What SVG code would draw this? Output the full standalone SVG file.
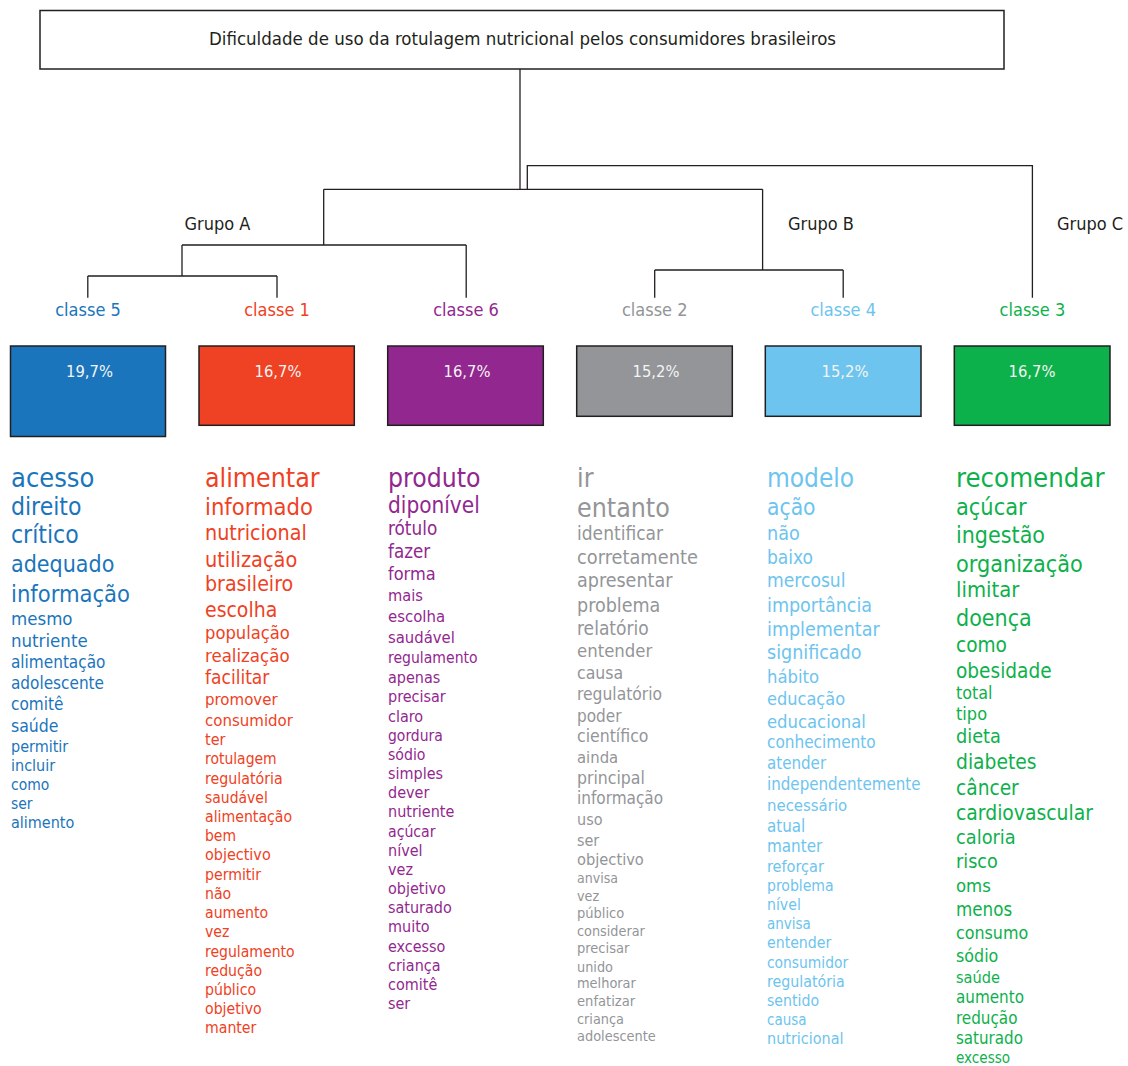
<svg xmlns="http://www.w3.org/2000/svg" width="1128" height="1066" viewBox="0 0 1128 1066">
<style>
text{font-family:"DejaVu Sans Condensed","DejaVu Sans",sans-serif;font-stretch:condensed}
.lbl{font-size:18px;fill:#231f20}
.ttl{font-size:18.5px;fill:#231f20;text-anchor:middle}
.cls{font-size:18px;text-anchor:middle}
.pct{font-size:16.4px;fill:#f4f4f4;text-anchor:middle}
.box{stroke:#231f20;stroke-width:1.5}
.ln{fill:none;stroke:#231f20;stroke-width:1.3}
.blue{fill:#1b75bc}.red{fill:#ef4123}.purple{fill:#92278f}.gray{fill:#939598}.lblue{fill:#6dc4ee}.green{fill:#0db14b}
</style>
<rect width="1128" height="1066" fill="#fff"/>
<g id="root">
<rect x="40" y="10.5" width="964" height="58.5" fill="#fff" class="box"/>
<text x="522.5" y="45" class="ttl">Dificuldade de uso da rotulagem nutricional pelos consumidores brasileiros</text>
</g>
<g id="connectors" class="ln">
<path d="M520 69V189.3M323.7 189.3H762.6M527.3 189.3V165.7H1032.4V297.7"/>
<path d="M323.7 189.3V245M182 245H466.2M182 245V276M87.8 276H277M87.8 276V297.7M277 276V297.7M466.2 245V297.7"/>
<path d="M762.6 189.3V270M654.7 270H843.2M654.7 270V297.7M843.2 270V297.7"/>
</g>
<g id="grupo-a"><text x="217.5" y="230" class="lbl" text-anchor="middle">Grupo A</text></g>
<g id="grupo-b"><text x="821" y="230" class="lbl" text-anchor="middle">Grupo B</text></g>
<g id="grupo-c"><text x="1090" y="230" class="lbl" text-anchor="middle">Grupo C</text></g>

<g id="classe5">
<text x="88" y="316" class="cls blue">classe 5</text>
<rect x="10.5" y="346" width="155" height="90.5" class="box blue"/>
<text x="89.5" y="376.7" class="pct">19,7%</text>
<text x="11" class="blue">
<tspan x="11" y="486.7" font-size="27">acesso</tspan>
<tspan x="11" y="515" font-size="24.5">direito</tspan>
<tspan x="11" y="543.3" font-size="24.5">crítico</tspan>
<tspan x="11" y="571.7" font-size="23">adequado</tspan>
<tspan x="11" y="601.7" font-size="23.5">informação</tspan>
<tspan x="11" y="625" font-size="18.5">mesmo</tspan>
<tspan x="11" y="647.3" font-size="18.5">nutriente</tspan>
<tspan x="11" y="668.3" font-size="17">alimentação</tspan>
<tspan x="11" y="689.3" font-size="17">adolescente</tspan>
<tspan x="11" y="710" font-size="17">comitê</tspan>
<tspan x="11" y="731.7" font-size="17.5">saúde</tspan>
<tspan x="11" y="751.7" font-size="16">permitir</tspan>
<tspan x="11" y="771" font-size="16">incluir</tspan>
<tspan x="11" y="790" font-size="15.5">como</tspan>
<tspan x="11" y="809.3" font-size="15.5">ser</tspan>
<tspan x="11" y="828.3" font-size="16">alimento</tspan>
</text>
</g>

<g id="classe1">
<text x="277" y="316" class="cls red">classe 1</text>
<rect x="199" y="346" width="155.3" height="79.3" class="box red"/>
<text x="278" y="376.7" class="pct">16,7%</text>
<text x="205" class="red">
<tspan x="205" y="486.7" font-size="26.5">alimentar</tspan>
<tspan x="205" y="515" font-size="23.5">informado</tspan>
<tspan x="205" y="540" font-size="21.3">nutricional</tspan>
<tspan x="205" y="566.7" font-size="21.5">utilização</tspan>
<tspan x="205" y="591" font-size="21.2">brasileiro</tspan>
<tspan x="205" y="616.7" font-size="21">escolha</tspan>
<tspan x="205" y="639.3" font-size="18.2">população</tspan>
<tspan x="205" y="661.7" font-size="18.5">realização</tspan>
<tspan x="205" y="684" font-size="19">facilitar</tspan>
<tspan x="205" y="705" font-size="16.7">promover</tspan>
<tspan x="205" y="725.7" font-size="16.7">consumidor</tspan>
<tspan x="205" y="745" font-size="16">ter</tspan>
<tspan x="205" y="764" font-size="15.5">rotulagem</tspan>
<tspan x="205" y="784" font-size="15.8">regulatória</tspan>
<tspan x="205" y="802.7" font-size="15.5">saudável</tspan>
<tspan x="205" y="821.7" font-size="15.7">alimentação</tspan>
<tspan x="205" y="841" font-size="15.5">bem</tspan>
<tspan x="205" y="860" font-size="16">objectivo</tspan>
<tspan x="205" y="880" font-size="15.7">permitir</tspan>
<tspan x="205" y="899" font-size="15.7">não</tspan>
<tspan x="205" y="918.3" font-size="15.7">aumento</tspan>
<tspan x="205" y="937.3" font-size="15.7">vez</tspan>
<tspan x="205" y="956.7" font-size="15.6">regulamento</tspan>
<tspan x="205" y="975.7" font-size="15.7">redução</tspan>
<tspan x="205" y="995" font-size="15.7">público</tspan>
<tspan x="205" y="1014" font-size="15.7">objetivo</tspan>
<tspan x="205" y="1033.3" font-size="15.7">manter</tspan>
</text>
</g>

<g id="classe6">
<text x="466" y="316" class="cls purple">classe 6</text>
<rect x="387.7" y="346" width="155.6" height="79.3" class="box purple"/>
<text x="467" y="376.7" class="pct">16,7%</text>
<text x="388" class="purple">
<tspan x="388" y="486.7" font-size="26.3">produto</tspan>
<tspan x="388" y="513.3" font-size="22.4">diponível</tspan>
<tspan x="388" y="535" font-size="18.8">rótulo</tspan>
<tspan x="388" y="558.3" font-size="18.6">fazer</tspan>
<tspan x="388" y="580" font-size="18">forma</tspan>
<tspan x="388" y="600.7" font-size="16.3">mais</tspan>
<tspan x="388" y="621.7" font-size="16.6">escolha</tspan>
<tspan x="388" y="643.3" font-size="16.5">saudável</tspan>
<tspan x="388" y="662.7" font-size="15.6">regulamento</tspan>
<tspan x="388" y="682.7" font-size="16">apenas</tspan>
<tspan x="388" y="702.3" font-size="16">precisar</tspan>
<tspan x="388" y="721.7" font-size="16">claro</tspan>
<tspan x="388" y="741" font-size="15.5">gordura</tspan>
<tspan x="388" y="760" font-size="15.7">sódio</tspan>
<tspan x="388" y="779.3" font-size="16">simples</tspan>
<tspan x="388" y="798.3" font-size="16">dever</tspan>
<tspan x="388" y="817.3" font-size="16">nutriente</tspan>
<tspan x="388" y="836.5" font-size="15.7">açúcar</tspan>
<tspan x="388" y="856" font-size="16">nível</tspan>
<tspan x="388" y="875" font-size="16">vez</tspan>
<tspan x="388" y="894" font-size="16">objetivo</tspan>
<tspan x="388" y="913.3" font-size="16">saturado</tspan>
<tspan x="388" y="932.3" font-size="16">muito</tspan>
<tspan x="388" y="951.7" font-size="16">excesso</tspan>
<tspan x="388" y="971" font-size="16">criança</tspan>
<tspan x="388" y="990" font-size="16">comitê</tspan>
<tspan x="388" y="1009" font-size="16">ser</tspan>
</text>
</g>

<g id="classe2">
<text x="654.7" y="316" class="cls gray">classe 2</text>
<rect x="576.7" y="346" width="155.6" height="70.3" class="box gray"/>
<text x="656" y="376.7" class="pct">15,2%</text>
<text x="577" class="gray">
<tspan x="577" y="486.7" font-size="26.5">ir</tspan>
<tspan x="577" y="516.7" font-size="26.5">entanto</tspan>
<tspan x="577" y="540" font-size="19">identificar</tspan>
<tspan x="577" y="564" font-size="19.8">corretamente</tspan>
<tspan x="577" y="586.7" font-size="19.5">apresentar</tspan>
<tspan x="577" y="612.3" font-size="19.5">problema</tspan>
<tspan x="577" y="635" font-size="19">relatório</tspan>
<tspan x="577" y="657.3" font-size="18.4">entender</tspan>
<tspan x="577" y="679.3" font-size="17.5">causa</tspan>
<tspan x="577" y="700" font-size="17.3">regulatório</tspan>
<tspan x="577" y="721.7" font-size="17">poder</tspan>
<tspan x="577" y="742.3" font-size="17.5">científico</tspan>
<tspan x="577" y="763.3" font-size="16.5">ainda</tspan>
<tspan x="577" y="784" font-size="17.5">principal</tspan>
<tspan x="577" y="804" font-size="17">informação</tspan>
<tspan x="577" y="825" font-size="16">uso</tspan>
<tspan x="577" y="846" font-size="16">ser</tspan>
<tspan x="577" y="865" font-size="16.3">objectivo</tspan>
<tspan x="577" y="883.3" font-size="14">anvisa</tspan>
<tspan x="577" y="900.7" font-size="14.2">vez</tspan>
<tspan x="577" y="918.3" font-size="14.5">público</tspan>
<tspan x="577" y="936" font-size="14.3">considerar</tspan>
<tspan x="577" y="953.3" font-size="14.5">precisar</tspan>
<tspan x="577" y="971.7" font-size="14.3">unido</tspan>
<tspan x="577" y="988.3" font-size="14.4">melhorar</tspan>
<tspan x="577" y="1006" font-size="14.6">enfatizar</tspan>
<tspan x="577" y="1024" font-size="14.3">criança</tspan>
<tspan x="577" y="1041" font-size="14.4">adolescente</tspan>
</text>
</g>

<g id="classe4">
<text x="843.2" y="316" class="cls lblue">classe 4</text>
<rect x="765.3" y="346" width="155.7" height="70.3" class="box lblue"/>
<text x="845" y="376.7" class="pct">15,2%</text>
<text x="767" class="lblue">
<tspan x="767" y="486.7" font-size="26">modelo</tspan>
<tspan x="767" y="515" font-size="22.6">ação</tspan>
<tspan x="767" y="540" font-size="19.6">não</tspan>
<tspan x="767" y="564" font-size="19">baixo</tspan>
<tspan x="767" y="586.7" font-size="19.1">mercosul</tspan>
<tspan x="767" y="612.3" font-size="19.5">importância</tspan>
<tspan x="767" y="636" font-size="19.5">implementar</tspan>
<tspan x="767" y="659.3" font-size="19.5">significado</tspan>
<tspan x="767" y="682.7" font-size="18.3">hábito</tspan>
<tspan x="767" y="705" font-size="18">educação</tspan>
<tspan x="767" y="727.7" font-size="18.3">educacional</tspan>
<tspan x="767" y="748.3" font-size="17">conhecimento</tspan>
<tspan x="767" y="769" font-size="16.8">atender</tspan>
<tspan x="767" y="790" font-size="16.8">independentemente</tspan>
<tspan x="767" y="811" font-size="16.6">necessário</tspan>
<tspan x="767" y="831.7" font-size="16.8">atual</tspan>
<tspan x="767" y="851.7" font-size="16.9">manter</tspan>
<tspan x="767" y="871.7" font-size="16.1">reforçar</tspan>
<tspan x="767" y="890.7" font-size="15.6">problema</tspan>
<tspan x="767" y="910" font-size="15.7">nível</tspan>
<tspan x="767" y="929.3" font-size="15">anvisa</tspan>
<tspan x="767" y="948.3" font-size="15.7">entender</tspan>
<tspan x="767" y="967.7" font-size="15.4">consumidor</tspan>
<tspan x="767" y="986.7" font-size="15.8">regulatória</tspan>
<tspan x="767" y="1006" font-size="15.7">sentido</tspan>
<tspan x="767" y="1025" font-size="15">causa</tspan>
<tspan x="767" y="1044" font-size="16">nutricional</tspan>
</text>
</g>

<g id="classe3">
<text x="1032.4" y="316" class="cls green">classe 3</text>
<rect x="954.3" y="346" width="155.7" height="79.3" class="box green"/>
<text x="1032" y="376.7" class="pct">16,7%</text>
<text x="956" class="green">
<tspan x="956" y="486.7" font-size="27.3">recomendar</tspan>
<tspan x="956" y="515" font-size="23.3">açúcar</tspan>
<tspan x="956" y="543.3" font-size="23">ingestão</tspan>
<tspan x="956" y="571.7" font-size="23.2">organização</tspan>
<tspan x="956" y="597.3" font-size="21.8">limitar</tspan>
<tspan x="956" y="626" font-size="23">doença</tspan>
<tspan x="956" y="651.7" font-size="20.6">como</tspan>
<tspan x="956" y="677.7" font-size="20.6">obesidade</tspan>
<tspan x="956" y="699" font-size="17.8">total</tspan>
<tspan x="956" y="720" font-size="18">tipo</tspan>
<tspan x="956" y="743.3" font-size="19.7">dieta</tspan>
<tspan x="956" y="769.3" font-size="20.8">diabetes</tspan>
<tspan x="956" y="795" font-size="20.7">câncer</tspan>
<tspan x="956" y="820" font-size="20.9">cardiovascular</tspan>
<tspan x="956" y="844" font-size="19.8">caloria</tspan>
<tspan x="956" y="868.3" font-size="19.6">risco</tspan>
<tspan x="956" y="891.7" font-size="18.4">oms</tspan>
<tspan x="956" y="915.7" font-size="18.6">menos</tspan>
<tspan x="956" y="939" font-size="17.7">consumo</tspan>
<tspan x="956" y="961.7" font-size="17.7">sódio</tspan>
<tspan x="956" y="982.7" font-size="16.2">saúde</tspan>
<tspan x="956" y="1003.3" font-size="16.9">aumento</tspan>
<tspan x="956" y="1024" font-size="16.9">redução</tspan>
<tspan x="956" y="1044" font-size="16.8">saturado</tspan>
<tspan x="956" y="1063.3" font-size="15.1">excesso</tspan>
</text>
</g>
</svg>
